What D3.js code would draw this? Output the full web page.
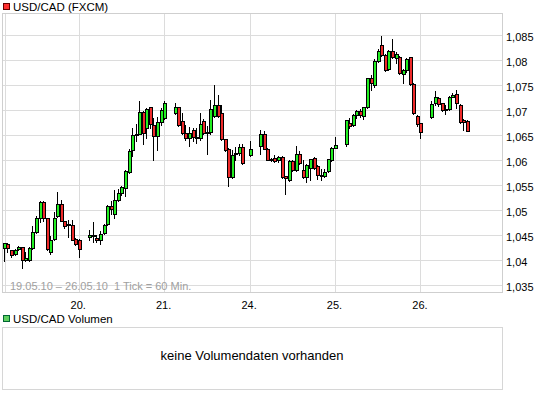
<!DOCTYPE html>
<html>
<head>
<meta charset="utf-8">
<script src="https://cdn.jsdelivr.net/npm/d3@7"></script>
<style>
  body { margin: 0; background: #fff; }
  svg { display: block; font-family: "Liberation Sans", Arial, sans-serif; }
</style>
</head>
<body>
<svg id="chart" width="545" height="395"></svg>
<script>
// trading days shown, first candle is 19.05.10 03:00, one candle per hour (null = no quote)
const days = ['19.05.10', '20.05.10', '21.05.10', '24.05.10', '25.05.10', '26.05.10'];
const dayLabels = ['19.', '20.', '21.', '24.', '25.', '26.'];
const firstHour = 3;
const slotsTotal = 140;

// [open, high, low, close]
const ohlc19 = [
  [1.0424, 1.0434, 1.0398, 1.0434], [1.0432, 1.0434, 1.0415, 1.0424], [1.0420, 1.0421, 1.0406, 1.0410],
  [1.0412, 1.0423, 1.0410, 1.0421], [1.0422, 1.0428, 1.0420, 1.0426], [1.0426, 1.0427, 1.0384, 1.0400],
  [1.0400, 1.0416, 1.0398, 1.0404], [1.0400, 1.0426, 1.0399, 1.0424], [1.0424, 1.0468, 1.0423, 1.0456],
  [1.0456, 1.0489, 1.0454, 1.0484], [1.0484, 1.0517, 1.0475, 1.0516], [1.0516, 1.0517, 1.0479, 1.0484],
  [1.0484, 1.0485, 1.0421, 1.0422], [1.0416, 1.0448, 1.0412, 1.0440], [1.0442, 1.0496, 1.0440, 1.0484],
  [1.0488, 1.0536, 1.0487, 1.0512], [1.0512, 1.0519, 1.0478, 1.0478], [1.0478, 1.0479, 1.0465, 1.0468],
  [1.0473, 1.0481, 1.0446, 1.0472], [1.0471, 1.0480, 1.0440, 1.0441], [1.0442, 1.0444, 1.0430, 1.0432]
];
const ohlc20 = [
  [1.0440, 1.0442, 1.0406, 1.0422], null, null,
  [1.0446, 1.0460, 1.0440, 1.0450], [1.0450, 1.0476, 1.0436, 1.0449], [1.0444, 1.0450, 1.0436, 1.0440],
  [1.0440, 1.0458, 1.0432, 1.0452], [1.0454, 1.0473, 1.0452, 1.0471], [1.0472, 1.0511, 1.0471, 1.0509],
  [1.0509, 1.0518, 1.0492, 1.0502], [1.0492, 1.0539, 1.0485, 1.0521], [1.0521, 1.0542, 1.0517, 1.0534],
  [1.0534, 1.0549, 1.0531, 1.0547], [1.0544, 1.0580, 1.0529, 1.0578], [1.0576, 1.0622, 1.0574, 1.0617],
  [1.0619, 1.0663, 1.0609, 1.0651], [1.0652, 1.0673, 1.0638, 1.0653], [1.0653, 1.0718, 1.0652, 1.0696],
  [1.0696, 1.0697, 1.0633, 1.0654], [1.0663, 1.0703, 1.0645, 1.0701], [1.0705, 1.0707, 1.0665, 1.0673],
  [1.0671, 1.0683, 1.0599, 1.0649], [1.0649, 1.0686, 1.0619, 1.0676], [1.0676, 1.0703, 1.0671, 1.0699]
];
const ohlc21 = [
  [1.0683, 1.0717, 1.0682, 1.0715], null, null,
  [1.0695, 1.0715, 1.0693, 1.0705], [1.0705, 1.0707, 1.0669, 1.0671], [1.0678, 1.0695, 1.0653, 1.0655],
  [1.0654, 1.0671, 1.0639, 1.0643], [1.0643, 1.0667, 1.0629, 1.0654], [1.0659, 1.0663, 1.0637, 1.0646],
  [1.0647, 1.0663, 1.0635, 1.0643], [1.0645, 1.0695, 1.0639, 1.0673], [1.0677, 1.0681, 1.0653, 1.0655],
  [1.0655, 1.0669, 1.0613, 1.0656], [1.0656, 1.0719, 1.0653, 1.0701], [1.0689, 1.0750, 1.0687, 1.0711],
  [1.0711, 1.0730, 1.0687, 1.0689], [1.0695, 1.0711, 1.0639, 1.0641], [1.0641, 1.0641, 1.0617, 1.0620],
  [1.0621, 1.0623, 1.0549, 1.0567], [1.0567, 1.0619, 1.0565, 1.0611], [1.0613, 1.0626, 1.0599, 1.0614],
  [1.0614, 1.0633, 1.0611, 1.0626], [1.0626, 1.0633, 1.0592, 1.0594], null
];
const ohlc24 = [
  [1.0611, 1.0637, 1.0609, 1.0622], null, null,
  [1.0628, 1.0659, 1.0613, 1.0653], [1.0653, 1.0657, 1.0621, 1.0622], [1.0621, 1.0623, 1.0599, 1.0599],
  [1.0599, 1.0605, 1.0598, 1.0603], [1.0604, 1.0611, 1.0595, 1.0597], [1.0599, 1.0609, 1.0595, 1.0607],
  [1.0607, 1.0609, 1.0565, 1.0567], [1.0569, 1.0569, 1.0533, 1.0565], [1.0560, 1.0600, 1.0558, 1.0598],
  [1.0598, 1.0599, 1.0577, 1.0579], [1.0579, 1.0629, 1.0578, 1.0612], [1.0612, 1.0617, 1.0593, 1.0594],
  [1.0580, 1.0600, 1.0565, 1.0567], [1.0567, 1.0593, 1.0555, 1.0590], [1.0584, 1.0603, 1.0559, 1.0602],
  [1.0604, 1.0607, 1.0583, 1.0584], [1.0589, 1.0591, 1.0563, 1.0570], [1.0570, 1.0581, 1.0559, 1.0569],
  [1.0569, 1.0583, 1.0567, 1.0576], [1.0578, 1.0603, 1.0575, 1.0601], [1.0599, 1.0627, 1.0598, 1.0624]
];
const ohlc25 = [
  [1.0624, 1.0647, 1.0623, 1.0631], null, null,
  [1.0633, 1.0680, 1.0629, 1.0679], [1.0675, 1.0683, 1.0665, 1.0668], [1.0671, 1.0693, 1.0669, 1.0691],
  [1.0691, 1.0699, 1.0684, 1.0697], [1.0697, 1.0701, 1.0685, 1.0691], [1.0689, 1.0707, 1.0682, 1.0705],
  [1.0705, 1.0764, 1.0703, 1.0763], [1.0763, 1.0770, 1.0740, 1.0755], [1.0751, 1.0802, 1.0747, 1.0798],
  [1.0798, 1.0822, 1.0796, 1.0818], [1.0830, 1.0847, 1.0808, 1.0810], [1.0810, 1.0812, 1.0778, 1.0780],
  [1.0781, 1.0820, 1.0780, 1.0818], [1.0818, 1.0841, 1.0804, 1.0806], [1.0803, 1.0816, 1.0794, 1.0812],
  [1.0805, 1.0808, 1.0772, 1.0774], [1.0773, 1.0782, 1.0754, 1.0780], [1.0780, 1.0804, 1.0776, 1.0801],
  [1.0805, 1.0806, 1.0750, 1.0753], [1.0752, 1.0754, 1.0693, 1.0694], [1.0689, 1.0691, 1.0669, 1.0673]
];
const ohlc26 = [
  [1.0675, 1.0675, 1.0645, 1.0656], null, null,
  [1.0685, 1.0717, 1.0683, 1.0713], [1.0714, 1.0738, 1.0711, 1.0725], [1.0723, 1.0725, 1.0709, 1.0713],
  [1.0714, 1.0715, 1.0697, 1.0699], [1.0701, 1.0711, 1.0692, 1.0700], [1.0701, 1.0728, 1.0699, 1.0725],
  [1.0726, 1.0734, 1.0725, 1.0731], [1.0733, 1.0740, 1.0703, 1.0714], [1.0711, 1.0713, 1.0675, 1.0676],
  [1.0679, 1.0681, 1.0659, 1.0676], [1.0677, 1.0679, 1.0657, 1.0658]
];

const yTicks = [1.035, 1.04, 1.045, 1.05, 1.055, 1.06, 1.065, 1.07, 1.075, 1.08, 1.085];
const yDomain = [1.0334, 1.0892];
const title = 'USD/CAD (FXCM)';
const rangeLabel = '19.05.10 \u2013 26.05.10  1 Tick = 60 Min.';
const volumeTitle = 'USD/CAD Volumen';
const volumeMessage = 'keine Volumendaten vorhanden';

// flatten into hourly slots
const perDay = [ohlc19, ohlc20, ohlc21, ohlc24, ohlc25, ohlc26];
const dayStart = [];
const candles = [];
let slot = 0;
perDay.forEach((rows, d) => {
  dayStart.push(d === 0 ? slot - firstHour : slot);
  rows.forEach((r, h) => {
    if (r) candles.push({day: days[d], slot, o: r[0], h: r[1], l: r[2], c: r[3]});
    slot++;
  });
});

const marginLeft = 3, plotRight = 503, plotTop = 14, plotBottom = 293;
const green = '#22ee22', red = '#ee2a2a';

const svg = d3.select('#chart');
svg.append('rect').attr('width', 545).attr('height', 395).attr('fill', '#fff');

const x = d3.scaleLinear([0, slotsTotal], [marginLeft + 0.9, plotRight - 0.7]);
const y = d3.scaleLinear(yDomain, [plotBottom, plotTop]);

// grid
const grid = svg.append('g').attr('stroke', '#dcdcdc').attr('shape-rendering', 'crispEdges');
grid.selectAll('.h')
  .data(yTicks)
  .join('line')
    .attr('x1', marginLeft).attr('x2', plotRight)
    .attr('y1', d => Math.round(y(d)) + 0.5)
    .attr('y2', d => Math.round(y(d)) + 0.5);
grid.selectAll('.v')
  .data(dayStart.slice(1))
  .join('line')
    .attr('x1', d => Math.round(x(d)) + 0.5)
    .attr('x2', d => Math.round(x(d)) + 0.5)
    .attr('y1', plotTop).attr('y2', plotBottom);
grid.append('line')
  .attr('x1', marginLeft + 2.5).attr('x2', marginLeft + 2.5)
  .attr('y1', plotTop).attr('y2', plotBottom);

svg.append('rect')
  .attr('x', marginLeft - 0.5).attr('y', plotTop - 0.5)
  .attr('width', plotRight - marginLeft).attr('height', plotBottom - plotTop)
  .attr('fill', 'none').attr('stroke', '#cfcfcf');

// axes
const xAxis = d3.axisBottom(x)
  .tickValues(dayStart.slice(1))
  .tickFormat((d, i) => dayLabels[i + 1])
  .tickSize(0)
  .tickPadding(5);
svg.append('g')
  .attr('transform', `translate(-1,${plotBottom + 3})`)
  .call(xAxis)
  .call(g => g.select('.domain').remove())
  .call(g => g.selectAll('text').attr('fill', '#000').attr('font-size', 11).attr('font-family', null));

const yAxis = d3.axisRight(y)
  .tickValues(yTicks)
  .tickFormat(d => String(+d.toFixed(3)).replace('.', ','))
  .tickSize(0)
  .tickPadding(0);
svg.append('g')
  .attr('transform', `translate(${plotRight + 3},2)`)
  .call(yAxis)
  .call(g => g.select('.domain').remove())
  .call(g => g.selectAll('text').attr('fill', '#000').attr('font-size', 11).attr('font-family', null));

// candles
const cg = svg.append('g').attr('shape-rendering', 'crispEdges');
const candle = cg.selectAll('g')
  .data(candles)
  .join('g');
candle.append('line')
  .attr('stroke', '#000')
  .attr('x1', d => Math.round(x(d.slot)) + 0.5)
  .attr('x2', d => Math.round(x(d.slot)) + 0.5)
  .attr('y1', d => Math.round(y(d.h)))
  .attr('y2', d => Math.round(y(d.l)) + 1);
candle.append('rect')
  .attr('fill', d => d.c >= d.o ? green : red)
  .attr('stroke', '#000')
  .attr('x', d => Math.round(x(d.slot)) - 0.5)
  .attr('width', 2.6)
  .attr('y', d => Math.round(y(Math.max(d.o, d.c))) + 0.5)
  .attr('height', d => Math.max(1, Math.round(y(Math.min(d.o, d.c))) - Math.round(y(Math.max(d.o, d.c)))));

// range note
svg.append('text')
  .attr('x', 10).attr('y', 290)
  .attr('font-size', 11).attr('fill', '#a0a0a0')
  .attr('xml:space', 'preserve')
  .text(rangeLabel);

// legends
const legend = (yy, color, border, label) => {
  svg.append('rect')
    .attr('x', 3.5).attr('y', yy + 0.5).attr('width', 6).attr('height', 6)
    .attr('fill', color).attr('stroke', border);
  svg.append('text')
    .attr('x', 13).attr('y', yy + 7.5)
    .attr('font-size', 11.5).attr('fill', '#000')
    .text(label);
};
legend(3, '#ff3030', '#600', title);
legend(315, '#5fcf5f', '#063', volumeTitle);

// volume panel
svg.append('rect')
  .attr('x', marginLeft - 0.5).attr('y', 327.5)
  .attr('width', plotRight - marginLeft).attr('height', 62)
  .attr('fill', 'none').attr('stroke', '#d6d6d6');
svg.append('text')
  .attr('x', 252).attr('y', 360)
  .attr('text-anchor', 'middle')
  .attr('font-size', 13).attr('fill', '#000')
  .text(volumeMessage);
</script>
</body>
</html>
